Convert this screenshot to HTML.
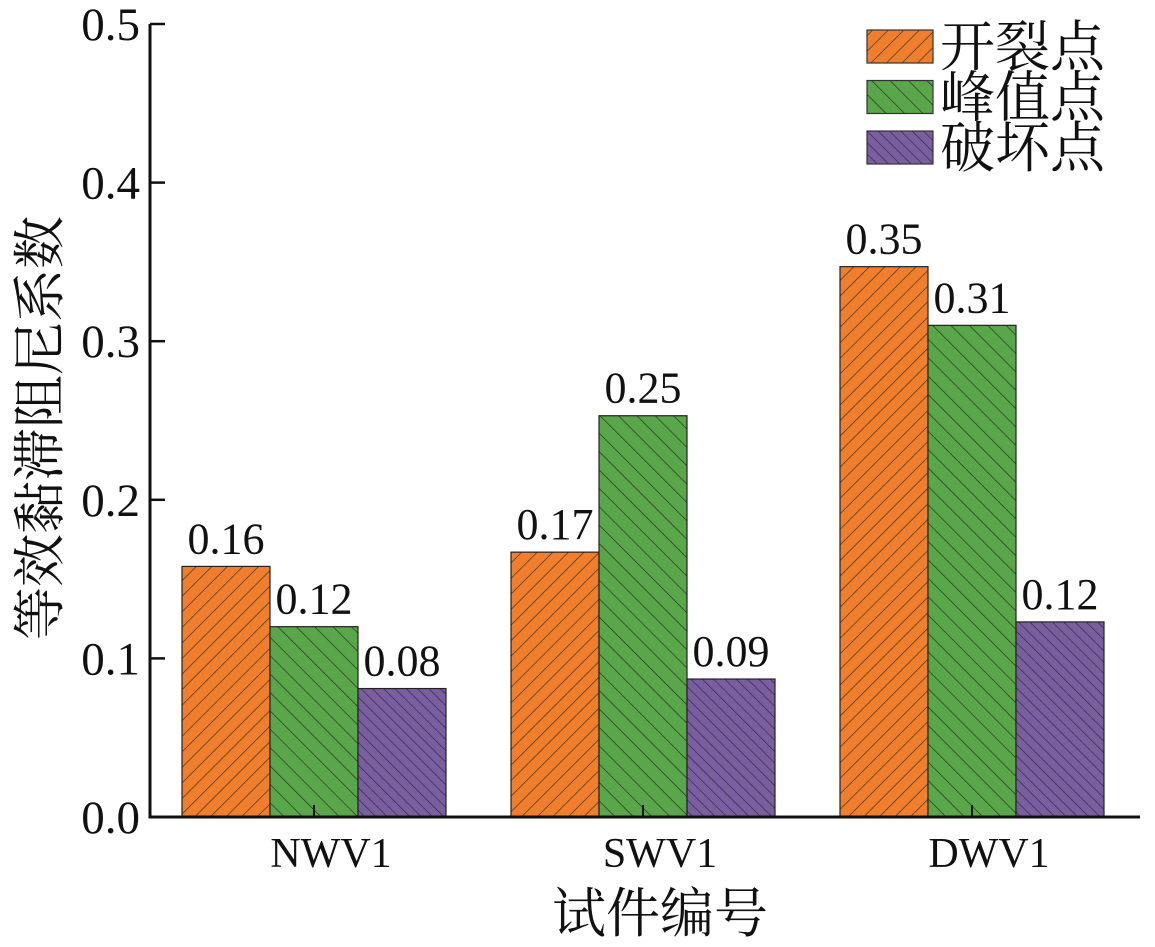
<!DOCTYPE html>
<html><head><meta charset="utf-8"><style>
html,body{margin:0;padding:0;background:#fff;}
svg text{font-family:"Liberation Serif","Noto Serif CJK SC",serif;fill:#111;}
</style></head><body>
<svg id="chart" width="1155" height="942" xmlns="http://www.w3.org/2000/svg">
<defs>
<pattern id="h-orange" patternUnits="userSpaceOnUse" width="11" height="11" patternTransform="rotate(45)"><rect width="11" height="11" fill="#f07f2d"/><line x1="0" y1="0" x2="0" y2="11" stroke="#3a2a1a" stroke-width="1.3"/></pattern>
<pattern id="h-green" patternUnits="userSpaceOnUse" width="13" height="13" patternTransform="rotate(-45)"><rect width="13" height="13" fill="#5aa64a"/><line x1="0" y1="0" x2="0" y2="13" stroke="#1f2f1a" stroke-width="1.3"/></pattern>
<pattern id="h-purple" patternUnits="userSpaceOnUse" width="8" height="8" patternTransform="rotate(-45)"><rect width="8" height="8" fill="#7a5fa0"/><line x1="0" y1="0" x2="0" y2="8" stroke="#2a2035" stroke-width="1.2"/></pattern>
</defs>
<g id="plot"></g>
</svg>
<script>
const categories = ["NWV1","SWV1","DWV1"];
const seriesNames = ["开裂点","峰值点","破坏点"];
const crackValues = [0.158, 0.167, 0.347];
const peakValues = [0.120, 0.253, 0.310];
const failValues = [0.081, 0.087, 0.123];
const valueLabels = [["0.16","0.17","0.35"],["0.12","0.25","0.31"],["0.08","0.09","0.12"]];
const yTicks = [0.0,0.1,0.2,0.3,0.4,0.5];
const yTickLabels = ["0.0","0.1","0.2","0.3","0.4","0.5"];

const NS="http://www.w3.org/2000/svg";
const g=document.getElementById('plot');
const x0=150, y0=817, yTop=24, xEnd=1140;
const yScale=v=>y0-(v/0.5)*(y0-yTop);
const groupCenter=i=>314+i*329;
const barW=88;
const fills=["url(#h-orange)","url(#h-green)","url(#h-purple)"];
const allSeries=[crackValues,peakValues,failValues];
function mk(tag,attrs){const e=document.createElementNS(NS,tag);for(const k in attrs)e.setAttribute(k,attrs[k]);g.appendChild(e);return e;}

allSeries.forEach((vals,s)=>{
  vals.forEach((v,i)=>{
    const x=groupCenter(i)-1.5*barW+s*barW;
    const r=mk('rect',{x:x,y:yScale(v),width:barW,height:y0-yScale(v),fill:fills[s],stroke:"#222","stroke-width":1.2});
    
    
    const t=mk('text',{x:x+barW/2,y:yScale(v)-13,"text-anchor":"middle","font-size":44});
    t.textContent=valueLabels[s][i];
    
    
  });
});

let ax=mk('line',{x1:x0,y1:yTop,x2:x0,y2:y0,stroke:"#111","stroke-width":3});


ax=mk('line',{x1:x0-1.5,y1:y0,x2:xEnd,y2:y0,stroke:"#111","stroke-width":3});



yTicks.forEach((v,i)=>{
  const y=yScale(v);
  mk('line',{x1:x0,y1:y,x2:x0+15,y2:y,stroke:"#111","stroke-width":2.5});
  const t=mk('text',{x:x0-10,y:y+16,"text-anchor":"end","font-size":47});
  t.textContent=yTickLabels[i];
  
  
});
categories.forEach((c,i)=>{
  const x=groupCenter(i);
  mk('line',{x1:x,y1:y0,x2:x,y2:y0-12,stroke:"#111","stroke-width":2});
  const t=mk('text',{x:x+17,y:y0+50,"text-anchor":"middle","font-size":42});
  t.textContent=c;
  
  
});

let t=mk('text',{x:660,y:932,"text-anchor":"middle","font-size":54});
t.textContent="试件编号";


t=mk('text',{x:0,y:0,"text-anchor":"middle","font-size":53,transform:"translate(58,428) rotate(-90)"});
t.textContent="等效黏滞阻尼系数";



seriesNames.forEach((n,s)=>{
  const y=30+s*50.5;
  const r=mk('rect',{x:867,y:y,width:66,height:33,fill:fills[s],stroke:"#333","stroke-width":1.2});
  
  
  const tx=mk('text',{x:940,y:y+36,"font-size":55});
  tx.textContent=n;
  
  
});
</script>
</body></html>
